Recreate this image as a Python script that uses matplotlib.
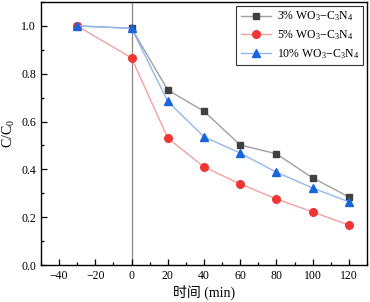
"""
Photocatalytic degradation curves C/C0 vs time for WO3-C3N4 samples.
"""

import matplotlib.pyplot as plt
from matplotlib.ticker import MultipleLocator

time_min = [-30, 0, 20, 40, 60, 80, 100, 120]
wo3_3 = [1.0, 0.99, 0.732, 0.643, 0.502, 0.465, 0.364, 0.285]
wo3_5 = [1.0, 0.866, 0.531, 0.41, 0.339, 0.276, 0.222, 0.167]
wo3_10 = [1.0, 0.99, 0.684, 0.536, 0.468, 0.388, 0.322, 0.264]

labels = [
    r"3% WO$_3$$-$C$_3$N$_4$",
    r"5% WO$_3$$-$C$_3$N$_4$",
    r"10% WO$_3$$-$C$_3$N$_4$",
]

plt.rcParams["font.family"] = ["Liberation Serif", "Noto Sans CJK SC"]
plt.rcParams["mathtext.fontset"] = "custom"
plt.rcParams["mathtext.rm"] = "Liberation Serif"
plt.rcParams["mathtext.it"] = "Liberation Serif"


def make_plot():
    fig = plt.figure(figsize=(3.70, 3.02), dpi=100)
    ax = fig.add_axes([41 / 370, 37 / 302, 326 / 370, 263 / 302])

    # vertical line at light-on time
    ax.axvline(0, color="#888888", linewidth=0.9, zorder=1)

    ax.plot(time_min, wo3_3, color="#a0a0a0", linewidth=1.0, marker="s",
            markersize=5, markerfacecolor="#404040", markeredgecolor="#404040",
            label=labels[0], zorder=3)
    ax.plot(time_min, wo3_5, color="#f4a0a0", linewidth=1.0, marker="o",
            markersize=5.5, markerfacecolor="#f03535", markeredgecolor="#f03535",
            label=labels[1], zorder=3)
    ax.plot(time_min, wo3_10, color="#90b8f0", linewidth=1.0, marker="^",
            markersize=6, markerfacecolor="#1a64dc", markeredgecolor="#1a64dc",
            label=labels[2], zorder=4)

    ax.set_xlim(-50, 130)
    ax.set_ylim(0, 1.1)
    ax.xaxis.set_major_locator(MultipleLocator(20))
    ax.xaxis.set_minor_locator(MultipleLocator(10))
    ax.yaxis.set_major_locator(MultipleLocator(0.2))
    ax.yaxis.set_minor_locator(MultipleLocator(0.1))
    ax.yaxis.set_major_formatter(plt.FormatStrFormatter("%.1f"))
    ax.tick_params(which="both", direction="in", labelsize=8.5, width=0.9)
    ax.tick_params(which="major", length=4)
    ax.tick_params(which="minor", length=2.5)
    for s in ax.spines.values():
        s.set_linewidth(1.0)

    ax.set_xlabel("时间 (min)", fontsize=10, labelpad=2)
    ax.set_ylabel(r"C/C$_0$", fontsize=10, labelpad=3)

    leg = ax.legend(loc="upper right", fontsize=8.5, fancybox=False,
                    edgecolor="#333333", framealpha=1, handlelength=2.6,
                    handletextpad=0.5, borderpad=0.35, borderaxespad=0.3,
                    labelspacing=0.4)
    leg.get_frame().set_linewidth(0.8)

    fig.savefig("out.png", dpi=100)


if __name__ == "__main__":
    make_plot()
